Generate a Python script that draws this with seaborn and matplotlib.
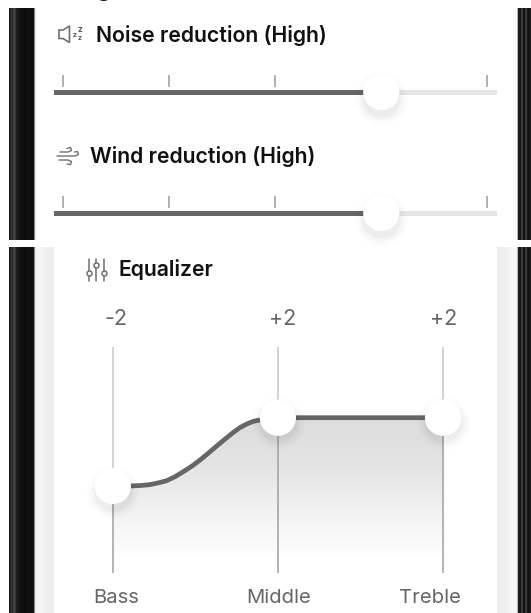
import numpy as np
import pandas as pd
import matplotlib
matplotlib.use("Agg")
import matplotlib.pyplot as plt
from matplotlib.patches import Polygon
from matplotlib.colors import LinearSegmentedColormap
import seaborn as sns

# ---- data ----
slider_titles = ["Noise reduction (High)", "Wind reduction (High)"]
slider_values = [3, 3]
slider_ticks = [0, 1, 2, 4]
eq_bands = ["Bass", "Middle", "Treble"]
eq_values = [-2, 2, 2]
eq_labels = ["-2", "+2", "+2"]
curve_x = [0, 0.104, 0.165, 0.225, 0.274, 0.326, 0.376, 0.427, 0.480, 0.528, 0.577,
           0.629, 0.68, 0.73, 0.77, 0.811, 0.849, 0.891, 0.939, 1, 2]
curve_y = [-2, -2, -1.976, -1.92, -1.82, -1.69, -1.46, -1.16, -0.83, -0.48, -0.09,
           0.34, 0.75, 1.14, 1.42, 1.63, 1.78, 1.87, 1.96, 2, 2]

W, H = 531, 613
sns.set_theme(style="white")
plt.rcParams["font.family"] = ["Inter", "DejaVu Sans"]
fig = plt.figure(figsize=(W / 100, H / 100), dpi=100, facecolor="white")


def px_axes(x0, y0, x1, y1, z=1):
    ax = fig.add_axes([x0 / W, 1 - y1 / H, (x1 - x0) / W, (y1 - y0) / H], zorder=z)
    ax.patch.set_alpha(0)
    ax.axis("off")
    return ax


def ftext(x, y, s, **kw):
    kw.setdefault("va", "center")
    return fig.text(x / W, 1 - y / H, s, **kw)


def thumbs(ax, xs, ys):
    frame = pd.DataFrame({"x": xs, "y": ys})
    # soft drop shadow, then the white knob
    trans = ax.transData + matplotlib.transforms.ScaledTranslation(0, -4 / 72, fig.dpi_scale_trans)
    for s, a in [(1500, 0.006), (1300, 0.008), (1120, 0.01), (960, 0.012), (820, 0.014), (720, 0.016)]:
        ax.scatter(frame["x"], frame["y"], s=s, color="black", alpha=a, lw=0,
                   transform=trans, clip_on=False, zorder=4)
    sns.scatterplot(data=frame, x="x", y="y", s=680, color="white", edgecolor="none",
                    linewidth=0, ax=ax, clip_on=False, zorder=5, legend=False)
    ax.set_xlabel("")
    ax.set_ylabel("")


# ---- background: phone bezel, panels ----
bg = px_axes(0, 0, W, H, z=0)
stripes_l = np.array([[.08, .14, .22, .16, .24, .28, .2, .13, .1, .1, .08, .07, .06, .06, .05, .05, .05, .05, .06, .06, .06, .06, .06, .06, .07, .55, .9]])
stripes_r = np.array([[.7, .12, .1, .08, .25, .22, .08, .07, .2, .24, .1, .07, .1, .12]])
for (y0, y1) in [(8, 240), (247, 613)]:
    bg.imshow(stripes_l, cmap="gray", vmin=0, vmax=1, extent=(9, 36, y1, y0), aspect="auto", zorder=1)
    bg.imshow(stripes_r, cmap="gray", vmin=0, vmax=1, extent=(517, 531, y1, y0), aspect="auto", zorder=1)
side = LinearSegmentedColormap.from_list("side", ["#f6f6f6", "#eeeeee"])
bg.imshow([[0, 1]], cmap=side, extent=(36, 54, 613, 247), aspect="auto", zorder=1, interpolation="bilinear")
bg.imshow([[1, 0]], cmap=side, extent=(496.5, 516.5, 613, 247), aspect="auto", zorder=1, interpolation="bilinear")
bg.set_xlim(0, W)
bg.set_ylim(H, 0)

# descender of a heading cropped by the top edge of the picture
fig.text(97 / W, 1 + 2.5 / H, "g", fontsize=16, fontweight="semibold", color="#111111",
         ha="left", va="baseline")

icon = "#6f6f6f"
# speaker icon
bg.add_patch(Polygon([(59, 30), (63, 30), (69.5, 26), (69.5, 42.5), (63, 38.5), (59, 38.5)],
                     closed=True, fill=False, ec=icon, lw=1.2, zorder=2))
for x, y, fs in [(74.5, 35, 5), (79.5, 30, 6), (79.5, 38, 5)]:
    ftext(x, y, "z", fontsize=fs, color="#555555", ha="center", fontweight="bold")
# wind icon
for line in ([(60, 152), (68, 152), (71.5, 150.5), (70.5, 147.5), (67, 148.5)],
             [(57, 156), (75, 156), (78.5, 154.5), (77.5, 151.5), (74.5, 152)],
             [(59, 160), (68, 160), (71.5, 161.5), (70.5, 164.5), (67, 164)]):
    xs, ys = zip(*line)
    bg.plot(xs, ys, color=icon, lw=1.0, zorder=2, solid_capstyle="round")
# equalizer icon
for x, ky in [(89, 273), (96.3, 265), (103.7, 273)]:
    bg.plot([x, x], [259, 281], color=icon, lw=1.1, zorder=2)
    bg.plot([x], [ky], "o", ms=3.6, mfc="white", mec=icon, mew=1.1, zorder=3)

# ---- sliders ----
X_PER = (487.3 - 63.3) / 4
for title, val, cy, tx, ty in zip(slider_titles, slider_values, [92, 213], [96.5, 90.5], [35, 156.5]):
    ax = px_axes(54, cy - 20, 496.5, cy + 20, z=2)
    ax.set_xlim((54 - 63.3) / X_PER, (496.5 - 63.3) / X_PER)
    ax.set_ylim(20, -20)
    xmin, xmax = ax.get_xlim()
    ax.plot([xmin, xmax], [0, 0], color="#e6e6e6", lw=3.6, solid_capstyle="round", zorder=1)
    sns.lineplot(x=[xmin, val], y=[0, 0], color="#666666", lw=3.6, ax=ax, zorder=2,
                 errorbar=None, solid_capstyle="round")
    ax.vlines(slider_ticks, -17.5, -5.5, color="#b0b0b0", lw=1.4, zorder=1)
    thumbs(ax, [val], [0])
    ax.axis("off")
    ftext(tx, ty, title, fontsize=15.3, fontweight="semibold", color="#111111", ha="left")

ftext(118.5, 270, "Equalizer", fontsize=15.3, fontweight="semibold", color="#111111", ha="left")

# ---- equalizer ----
X0, X2 = 112.8, 443.0
Y_M2, Y_P2 = 486.0, 417.7
top, bottom = 346.7, 572.7
xunit = (X2 - X0) / 2
yunit = (Y_M2 - Y_P2) / 4
ax = px_axes(54, top, 496.5, bottom, z=2)
ax.set_xlim((54 - X0) / xunit, (496.5 - X0) / xunit)
ax.set_ylim(-2 - (bottom - Y_M2) / yunit, -2 + (Y_M2 - top) / yunit)
lo, hi = ax.get_ylim()

# gradient under the curve
grad = LinearSegmentedColormap.from_list("g", ["#dddddd", "#e4e4e4", "#f2f2f2", "#ffffff"])
val_bottom = -2 - (560 - Y_M2) / yunit
im = ax.imshow(np.linspace(0, 1, 128)[:, None], cmap=grad, aspect="auto", zorder=1,
               extent=(0, 2, val_bottom, 2))
clip = Polygon(list(zip(curve_x, curve_y)) + [(2, val_bottom), (0, val_bottom)], closed=True,
               transform=ax.transData, fc="none", ec="none")
ax.add_patch(clip)
im.set_clip_path(clip)
ax.set_xlim((54 - X0) / xunit, (496.5 - X0) / xunit)
ax.set_ylim(lo, hi)

ax.vlines(range(3), eq_values, hi, color="#c8c8c8", lw=1.1, zorder=2)
ax.vlines(range(3), lo, eq_values, color="#a0a0a0", lw=1.1, zorder=2)
sns.lineplot(x=curve_x, y=curve_y, color="#666666", lw=3.4, ax=ax, zorder=3, sort=False,
             errorbar=None, solid_joinstyle="round")
thumbs(ax, [0, 1, 2], eq_values)
ax.axis("off")

label_c = "#666666"
for s, x in zip(eq_labels, [115.5, 282.8, 443.6]):
    ftext(x, 319, s, fontsize=15.5, color=label_c, ha="center")
for s, x in zip(eq_bands, [116.5, 278.7, 430.4]):
    ftext(x, 598, s, fontsize=14.6, color=label_c, ha="center")

fig.savefig("out.png", dpi=100, facecolor="white")
